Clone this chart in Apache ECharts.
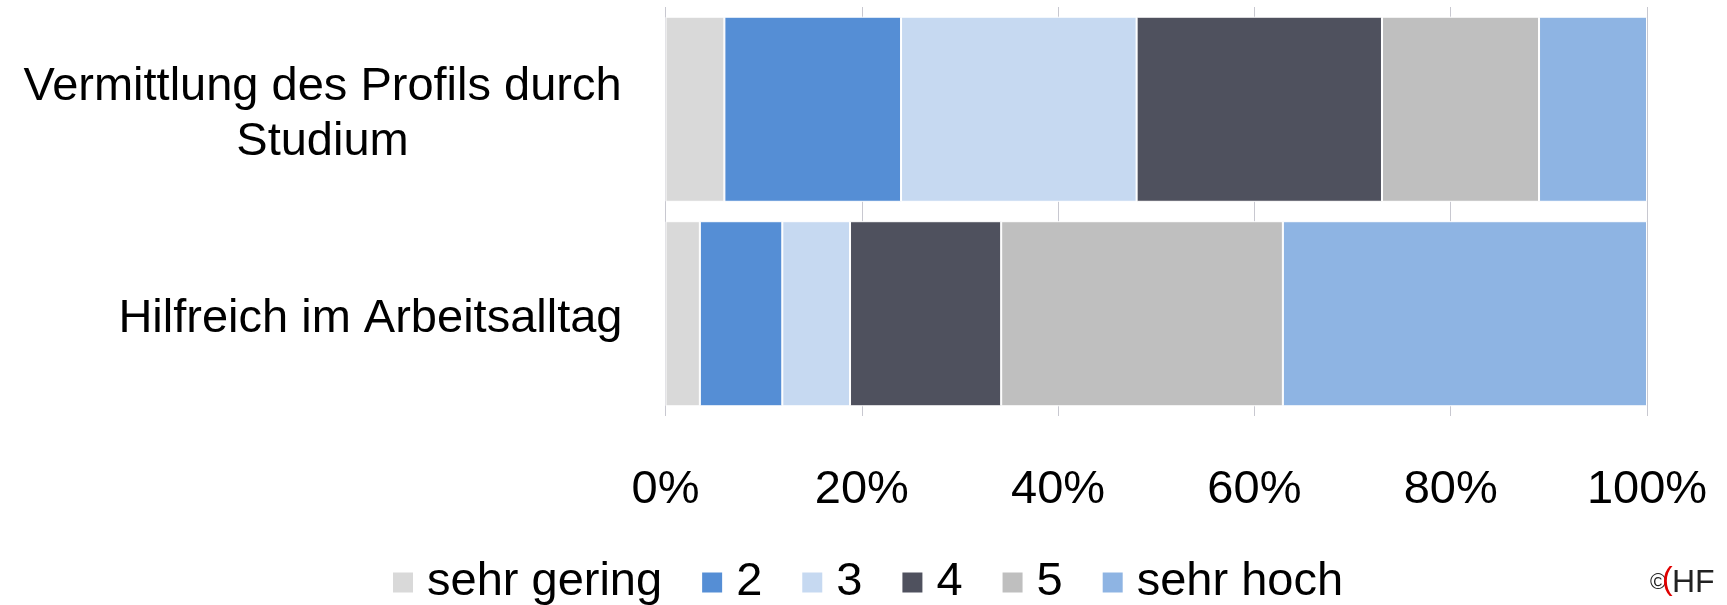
<!DOCTYPE html>
<html>
<head>
<meta charset="utf-8">
<script src="https://cdn.jsdelivr.net/npm/echarts@6/dist/echarts.min.js"></script>
<style>
html,body{margin:0;padding:0;background:#fff;}
#c{width:1727px;height:605px;}
</style>
</head>
<body>
<div id="c"></div>
<script>
const categories = ['Vermittlung des Profils durch\nStudium', 'Hilfreich im Arbeitsalltag'];
const seriesNames = ['sehr gering', '2', '3', '4', '5', 'sehr hoch'];
const sehrGering = [6, 3.5];
const stufe2 = [18, 8.4];
const stufe3 = [24, 6.9];
const stufe4 = [25, 15.4];
const stufe5 = [16, 28.7];
const sehrHoch = [11, 37.1];
const tickValues = [0, 20, 40, 60, 80, 100];

const colors = ['#d9d9d9', '#558ed5', '#c6d9f1', '#4f515e', '#bfbfbf', '#8eb4e3'];
const allData = [sehrGering, stufe2, stufe3, stufe4, stufe5, sehrHoch];
const FONT = "'Liberation Sans', Arial, sans-serif";

const chart = echarts.init(document.getElementById('c'), null, {renderer: 'canvas'});
const option = {
  animation: false,
  backgroundColor: '#ffffff',
  textStyle: {fontFamily: FONT},
  grid: {left: 665.5, right: 80, top: 7, bottom: 189, containLabel: false},
  legend: {
    data: seriesNames,
    left: 386,
    top: 554,
    icon: 'rect',
    itemWidth: 22,
    itemHeight: 22,
    itemGap: 38,
    textStyle: {fontFamily: FONT, fontSize: 47, color: '#000', padding: [0, 0, 0, 8]}
  },
  xAxis: {
    type: 'value',
    min: tickValues[0],
    max: tickValues[tickValues.length - 1],
    interval: 20,
    axisLine: {show: false},
    axisTick: {show: false},
    splitLine: {show: true, lineStyle: {color: '#c8c8d0', width: 1}},
    axisLabel: {formatter: '{value}%', fontSize: 47, color: '#000', fontFamily: FONT, margin: 51}
  },
  yAxis: {
    type: 'category',
    inverse: true,
    data: categories,
    axisLine: {show: false},
    axisTick: {show: false},
    axisLabel: {
      margin: 43,
      color: '#000',
      fontFamily: FONT,
      fontSize: 47,
      padding: [11, 0, 0, 0],
      formatter: function (v) {
        if (v.indexOf('\n') >= 0) {
          return v.split('\n').map(function (s) { return '{c|' + s + '}'; }).join('\n');
        }
        return '{p|' + v + '}';
      },
      rich: {
        c: {width: 600, align: 'center', fontSize: 47, lineHeight: 55, color: '#000', fontFamily: FONT},
        p: {fontSize: 47, color: '#000', fontFamily: FONT}
      }
    }
  },
  series: seriesNames.map(function (name, i) {
    return {
      name: name,
      type: 'bar',
      stack: 'total',
      barCategoryGap: '9.5%',
      data: allData[i],
      itemStyle: {color: colors[i], borderColor: '#ffffff', borderWidth: 1}
    };
  }),
  graphic: [
    {type: 'text', left: 1650, top: 572, style: {text: '©', fontSize: 22, fill: '#222', fontFamily: FONT}},
    {type: 'text', left: 1662, top: 564, style: {text: '(', fontSize: 32, fill: '#e00000', fontFamily: FONT}},
    {type: 'text', left: 1672, top: 567, style: {text: 'HF', fontSize: 32, fill: '#222', fontFamily: "'Liberation Sans Narrow', 'Liberation Sans', Arial"}}
  ]
};
chart.setOption(option);
</script>
</body>
</html>
